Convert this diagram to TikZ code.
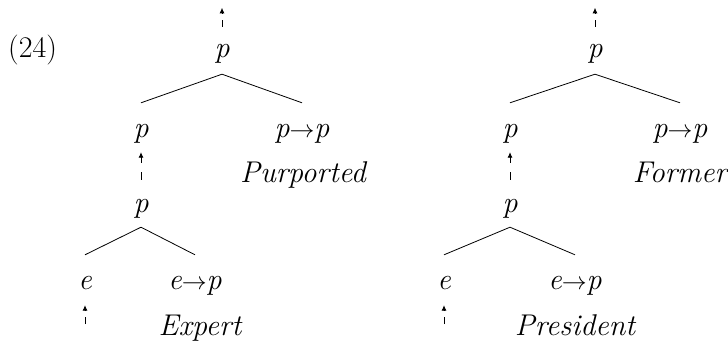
\documentclass[tikz,border=0pt]{standalone}
\usetikzlibrary{arrows.meta}
\begin{document}
\begin{tikzpicture}[x=1pt,y=-1pt,
  every node/.style={font=\fontsize{30pt}{36pt}\selectfont\itshape, inner sep=0pt},
  cat/.style={anchor=base, text height=14pt, text depth=6pt},
  word/.style={anchor=base},
  branch/.style={line width=0.8pt},
  feed/.style={line width=0.8pt, dash pattern=on 7pt off 6pt, -{Latex[length=5.5pt,width=5pt]}},
  feedlong/.style={feed, dash pattern=on 8pt off 9pt}]
\useasboundingbox (0,0) rectangle (728,345);

\node[anchor=base west, font=\fontsize{30pt}{36pt}\selectfont] (num) at (8,58) {(24)};

% left tree
\node[cat] (lr) at (222,58) {p};
\node[cat] (lp) at (141,137) {p};
\node[cat] (lf) at (302,137) {p$\rightarrow$p};
\node[word] (lw1) at (303,182) {Purported};
\node[cat] (lm) at (141,212) {p};
\node[cat] (le) at (85,289) {e};
\node[cat] (lg) at (195,289) {e$\rightarrow$p};
\node[word] (lw2) at (200,335) {Expert};

\draw[branch] ([yshift=-10pt]lr.south) -- ([yshift=20pt]lp.north);
\draw[branch] ([yshift=-10pt]lr.south) -- ([yshift=20pt]lf.north);
\draw[branch] ([yshift=-9pt]lm.south) -- ([yshift=20pt]le.north);
\draw[branch] ([yshift=-9pt]lm.south) -- ([yshift=20pt]lg.north);
\draw[feed] ([yshift=17pt]lr.north) -- ([yshift=36pt]lr.north);
\draw[feedlong] ([yshift=18pt]lm.north) -- ([yshift=-9pt]lp.south);
\draw[feed] ([yshift=-29pt]le.south) -- ([yshift=-10pt]le.south);

% right tree
\node[cat] (rr) at (595,58) {p};
\node[cat] (rp) at (510,137) {p};
\node[cat] (rf) at (680,137) {p$\rightarrow$p};
\node[word] (rw1) at (680,182) {Former};
\node[cat] (rm) at (510,212) {p};
\node[cat] (re) at (444,289) {e};
\node[cat] (rg) at (575,289) {e$\rightarrow$p};
\node[word] (rw2) at (575,335) {President};

\draw[branch] ([yshift=-10pt]rr.south) -- ([yshift=20pt]rp.north);
\draw[branch] ([yshift=-10pt]rr.south) -- ([yshift=20pt]rf.north);
\draw[branch] ([yshift=-9pt]rm.south) -- ([yshift=20pt]re.north);
\draw[branch] ([yshift=-9pt]rm.south) -- ([yshift=20pt]rg.north);
\draw[feed] ([yshift=17pt]rr.north) -- ([yshift=36pt]rr.north);
\draw[feedlong] ([yshift=18pt]rm.north) -- ([yshift=-9pt]rp.south);
\draw[feed] ([yshift=-29pt]re.south) -- ([yshift=-10pt]re.south);
\end{tikzpicture}
\end{document}
